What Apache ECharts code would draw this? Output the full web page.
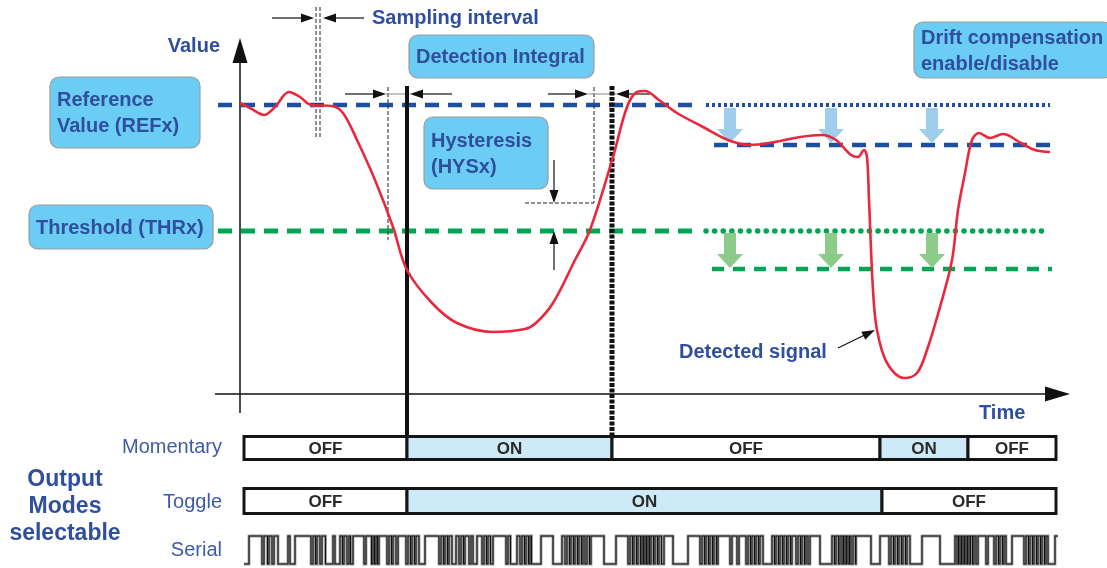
<!DOCTYPE html>
<html><head><meta charset="utf-8">
<script src="https://cdn.jsdelivr.net/npm/echarts@6/dist/echarts.min.js"></script>
<style>html,body{margin:0;padding:0;background:#fff}#c{width:1107px;height:568px}</style>
</head><body><div id="c"></div>
<script>
// ---------- DATA (time = horizontal units from the Value axis, value = vertical units above the Time axis) ----------
const signal = [[0,291],[10,286],[24,279],[35,287],[49,302],[60,297],[71,289],[92,288],[103,281],[117,254],[135,214],[153,167],[167,124],[192,91],[217,71],[253,62],[285,65],[296,71],[313,91],[335,134],[350,164],[373,237],[387,287],[397,302],[405,303],[419,294],[437,281],[463,267],[488,254],[510,249],[535,252],[560,257],[582,259],[596,254],[611,239],[618,237],[624,244],[627,237],[629,194],[633,104],[637,64],[647,31],[664,16],[677,21],[687,44],[700,87],[712,134],[718,184],[725,221],[732,254],[739,261],[750,256],[763,260],[781,251],[795,244],[810,242]];
const refLine = [[-22,289],[459,289]];
const refLineDisabled = [[466,289],[810,289]];
const thrLine = [[-22,163],[459,163]];
const thrLineDisabled = [[466,163],[810,163]];
const refLineDrift = [[474,249],[810,249]];
const thrLineDrift = [[472,125],[812,125]];
const driftArrowsRef = [[490,286,251],[591,286,251],[692,286,251]];
const driftArrowsThr = [[490,161,126],[591,161,126],[692,161,126]];
const guideLines = [[76,387,76,257],[80,387,80,257],[148,307,148,154],[354,307,354,191],[285,191,354,191]];
const connectorLines = [[146,300,170,300],[348,300,376,300]];
const smallArrows = [[32,376,74,376],[124,376,83,376],[105,300,146,300],[212,300,170,300],[308,300,348,300],[410,300,376,300],[314,234,314,191],[314,124,314,163],[598,46,635,64]];
const axisArrows = [[0,-19,0,356],[-25,0,830,0]];
const detectStart = [[167,308,167,-42]];
const detectEnd = [[372,308,372,-42]];
const boxes = [[-190,317,-40,246],[-211,189,-27,145],[169,359,354,316],[184,277,308,205],[674,372,872,316]];
const boxTexts = ['Reference\nValue (REFx)','Threshold (THRx)','Detection Integral','Hysteresis\n(HYSx)','Drift compensation\nenable/disable'];
const annotations = [[132,376,'Sampling interval'],[439,42,'Detected signal'],[739,-19,'Time']];
const valueLabel = [[-20,348,'Value']];
const modeLabels = [[-18,-53,'Momentary'],[-18,-108,'Toggle'],[-18,-156,'Serial']];
const groupLabel = [[-175,-113,'Output\nModes\nselectable']];
const momentary = [[4,167,'OFF'],[167,372,'ON'],[372,640,'OFF'],[640,728,'ON'],[728,816,'OFF']];
const toggle = [[4,167,'OFF'],[167,642,'ON'],[642,816,'OFF']];
// serial output: time intervals where the line is high (low elsewhere)
const serialHigh = [
  [9,22],[24,27.5],[29,32],[34,38],[48,50],[55,71],[73,75.5],[77,80],[82,85.5],[93,95],
  [100,102.5],[104,107],[109,110.5],[113,124],[126,131.5],[133,134.5],[136,137.5],[139,147],
  [149,151.5],[153,156],[158,166],[168,170.5],[172,174.5],[176,179],[185,199],[201,203.5],
  [205,207.5],[209,212],[216,219],[221,223.5],[225,229],[231,233],[237,242],[244,246.5],
  [248,250.5],[253,266],[268,270.5],[277,280],[282,284.5],[286,288.5],[290,291.5],[301,313],
  [322,325],[327,329.5],[331,333.5],[335,337.5],[339,341.5],[343,345],[347,349.5],[351,364],
  [376,388],[390,392.5],[394,396.5],[398,400.5],[402,403.5],[405,406.5],[408,409.5],[411,413.5],
  [415,417.5],[419,421.5],[424,433],[448,460],[462,464.5],[466,468.5],[470,472.5],[474,476.5],
  [478,490],[492,497],[499,506],[508,510.5],[512,514.5],[516,518.5],[520,523],[532,534.5],
  [536,538.5],[540,542.5],[544,546.5],[548,550.5],[552,556],[558,560.5],[562,564.5],[566,568],
  [570,580],[592,594.5],[596,598.5],[600,602],[603.5,605],[606.5,608],[609.5,611],[613,615.5],
  [616,631],[640,649],[651,653.5],[655,657.5],[659,661.5],[663,665.5],[667,670],[682,700],
  [715,717],[718.5,720],[721.5,723],[724.5,726],[727.5,729],[730.5,732.5],[734,736],[738,746],
  [748,754],[756,758.5],[760,762.5],[764,766],[772,784],[786,788.5],[790,792.5],[794,796.5],
  [798,800.5],[802,804.5],[806,808],[815,818]
];
const serialStart = 4;

// ---------- LAYOUT / STYLE ----------
const BLUE = '#1C4FA1', GREEN = '#00A651', TXT = '#2F4E9E';
const FONT_B = 'bold 20px "Liberation Sans", Arial, sans-serif';
const rows = {momentary: [-42.5, -65.5], toggle: [-94.5, -119.5]};
const serialLo = -170, serialHi = -142;

function lineSeries(data, color, width, dash, cap, z) {
  return {type:'line', data, showSymbol:false, silent:true, z: z||2,
    lineStyle:{color, width, type: dash, cap: cap||'butt'}};
}
function segSeries(data, style, z) {
  return {type:'custom', data, silent:true, z: z||3, renderItem:(p, api) => {
    const a = api.coord([api.value(0), api.value(1)]), b = api.coord([api.value(2), api.value(3)]);
    return {type:'line', shape:{x1:a[0], y1:a[1], x2:b[0], y2:b[1]}, style:Object.assign({fill:null}, style)};
  }};
}
function arrowSeries(data, color, lw, hl, hw, z) {
  return {type:'custom', data, silent:true, z: z||5, renderItem:(p, api) => {
    const a = api.coord([api.value(0), api.value(1)]), b = api.coord([api.value(2), api.value(3)]);
    const dx = b[0]-a[0], dy = b[1]-a[1], L = Math.hypot(dx, dy), ux = dx/L, uy = dy/L;
    const bx = b[0]-ux*hl, by = b[1]-uy*hl, px = -uy*hw/2, py = ux*hw/2;
    return {type:'group', children:[
      {type:'line', shape:{x1:a[0], y1:a[1], x2:bx+ux*2, y2:by+uy*2}, style:{stroke:color, lineWidth:lw}},
      {type:'polygon', shape:{points:[[b[0],b[1]],[bx+px,by+py],[bx-px,by-py]]}, style:{fill:color}}
    ]};
  }};
}
function fatArrowSeries(data, color) {
  return {type:'custom', data, silent:true, z:4, renderItem:(p, api) => {
    const t = api.coord([api.value(0), api.value(1)]), e = api.coord([api.value(0), api.value(2)]);
    const cx = t[0], sw = 6, hw = 13, hl = 14;
    return {type:'polygon', shape:{points:[[cx-sw,t[1]],[cx+sw,t[1]],[cx+sw,e[1]-hl],[cx+hw,e[1]-hl],[cx,e[1]],[cx-hw,e[1]-hl],[cx-sw,e[1]-hl]]},
      style:{fill:color}};
  }};
}
function textSeries(items, style) {
  return {type:'custom', data: items.map(d => [d[0], d[1]]), silent:true, z:10, renderItem:(p, api) => {
    const c = api.coord([api.value(0), api.value(1)]);
    return {type:'text', x:c[0], y:c[1], style:Object.assign({text: items[p.dataIndex][2]}, style)};
  }};
}
function boxSeries() {
  return {type:'custom', data: boxes, silent:true, z:8, renderItem:(p, api) => {
    const a = api.coord([api.value(0), api.value(1)]), b = api.coord([api.value(2), api.value(3)]);
    return {type:'group', children:[
      {type:'rect', shape:{x:a[0], y:a[1], width:b[0]-a[0], height:b[1]-a[1], r:9},
        style:{fill:'#6CCDF4', stroke:'#9C9C9C', lineWidth:1.2}},
      {type:'text', x:a[0]+7, y:(a[1]+b[1])/2 + 1,
        style:{text: boxTexts[p.dataIndex], font: FONT_B, fill: TXT, align:'left', verticalAlign:'middle', lineHeight:26}}
    ]};
  }};
}
function modeBarSeries(segs, row) {
  return {type:'custom', data: segs.map(s => [s[0], s[1]]), silent:true, z:6, renderItem:(p, api) => {
    const a = api.coord([api.value(0), row[0]]), b = api.coord([api.value(1), row[1]]);
    const on = segs[p.dataIndex][2] === 'ON';
    return {type:'group', children:[
      {type:'rect', shape:{x:a[0], y:a[1], width:b[0]-a[0], height:b[1]-a[1]},
        style:{fill: on ? '#CDEAF6' : '#FFFFFF', stroke:'#151515', lineWidth:3}},
      {type:'text', x:(a[0]+b[0])/2, y:(a[1]+b[1])/2 + 1,
        style:{text: segs[p.dataIndex][2], font:'bold 17px "Liberation Sans", Arial, sans-serif', fill:'#2A2A2A', align:'center', verticalAlign:'middle'}}
    ]};
  }};
}
// explicit square-wave points of the serial line, built from the high intervals
const serialPts = [[serialStart, serialLo]];
serialHigh.forEach((h, i) => {
  serialPts.push([h[0], serialLo], [h[0], serialHi], [h[1], serialHi]);
  if (i < serialHigh.length - 1) serialPts.push([h[1], serialLo]);
});
function serialSeries() {
  return {type:'custom', data:[[serialStart, serialLo]], silent:true, z:6, renderItem:(p, api) => {
    const pts = serialPts.map(pt => api.coord(pt));
    return {type:'group', children:[
      {type:'polyline', shape:{points:pts}, style:{stroke:'#9A9A9A', lineWidth:2.8, fill:null, lineJoin:'miter'}},
      {type:'polyline', shape:{points:pts}, style:{stroke:'#111', lineWidth:1.1, fill:null, lineJoin:'miter'}}
    ]};
  }};
}

const chart = echarts.init(document.getElementById('c'), null, {renderer:'canvas'});
chart.setOption({
  animation:false,
  backgroundColor:'#fff',
  grid:{left:0, right:0, top:0, bottom:0},
  xAxis:{type:'value', min:-240, max:867, show:false},
  yAxis:{type:'value', min:-174, max:394, show:false},
  series:[
    lineSeries(refLine, BLUE, 4.5, [14,9]),
    lineSeries(refLineDisabled, BLUE, 4, [3,3]),
    lineSeries(thrLine, GREEN, 5, [14,9]),
    lineSeries(thrLineDisabled, GREEN, 5.5, [0.1,8.5], 'round'),
    lineSeries(refLineDrift, BLUE, 4.5, [14,9]),
    lineSeries(thrLineDrift, GREEN, 4.5, [12,9]),
    fatArrowSeries(driftArrowsRef, '#9FCDEB'),
    fatArrowSeries(driftArrowsThr, '#8CCB8A'),
    segSeries(guideLines, {stroke:'#222', lineWidth:1, lineDash:[4,2]}),
    segSeries(connectorLines, {stroke:'#888', lineWidth:1}),
    segSeries(detectStart, {stroke:'#111', lineWidth:4}, 4),
    segSeries(detectEnd, {stroke:'#111', lineWidth:5, lineDash:[4,1.5]}, 4),
    arrowSeries(smallArrows, '#111', 1.2, 13, 9),
    arrowSeries(axisArrows, '#111', 1.5, 25, 15),
    {type:'line', data: signal, smooth:0.35, showSymbol:false, silent:true, z:7,
      lineStyle:{color:'#E8283C', width:2.6}},
    boxSeries(),
    modeBarSeries(momentary, rows.momentary),
    modeBarSeries(toggle, rows.toggle),
    serialSeries(),
    textSeries(annotations, {font: FONT_B, fill: TXT, align:'left', verticalAlign:'middle'}),
    textSeries(valueLabel, {font: FONT_B, fill: TXT, align:'right', verticalAlign:'middle'}),
    textSeries(modeLabels, {font:'20px "Liberation Sans", Arial, sans-serif', fill:'#3D5BA9', align:'right', verticalAlign:'middle'}),
    textSeries(groupLabel, {font:'bold 23px "Liberation Sans", Arial, sans-serif', fill:TXT, align:'center', verticalAlign:'middle', lineHeight:27})
  ]
});
</script></body></html>
